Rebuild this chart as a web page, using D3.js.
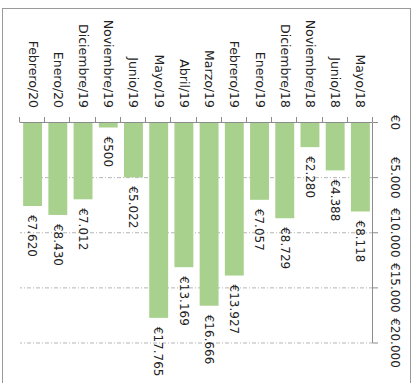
<!DOCTYPE html>
<html>
<head>
<meta charset="utf-8">
<script src="https://cdn.jsdelivr.net/npm/d3@7"></script>
<style>
  body { margin: 0; background: #fff; }
  text { font-family: "DejaVu Sans", sans-serif; }
</style>
</head>
<body>
<div id="chart-area"></div>
<script>
// monthly amounts, first category is drawn at the right
var categories = ["Mayo/18", "Junio/18", "Noviembre/18", "Diciembre/18", "Enero/19", "Febrero/19",
    "Marzo/19", "Abril/19", "Mayo/19", "Junio/19", "Noviembre/19", "Diciembre/19", "Enero/20", "Febrero/20"];
var values = [8118, 4388, 2280, 8729, 7057, 13927, 16666, 13169, 17765, 5022, 500, 7012, 8430, 7620];
var valueTicks = [0, 5000, 10000, 15000, 20000];

var W = 411, H = 383;

var fmt = (d) => "€" + d3.format(",")(d).replace(/,/g, ".");

var svg = d3.select("#chart-area").append("svg")
    .attr("width", W)
    .attr("height", H);

svg.append("rect")
    .attr("x", 2.5)
    .attr("y", 8.5)
    .attr("width", 408)
    .attr("height", 390)
    .attr("fill", "none")
    .attr("stroke", "#9a9a9a")
    .attr("stroke-width", 1);

// the chart is a horizontal bar chart turned a quarter turn clockwise
var g = svg.append("g")
    .attr("transform", "translate(" + W + ",0) rotate(90)");

var val = d3.scaleLinear().domain([0, 20000]).range([122, 342.5]);

var cat = d3.scaleBand()
    .domain(categories)
    .range([38, 391])
    .paddingInner(0.25)
    .paddingOuter(0.125);

// gridlines
g.selectAll(".grid").data(valueTicks.slice(1)).enter().append("line")
    .attr("x1", (d) => val(d) + 0.5)
    .attr("x2", (d) => val(d) + 0.5)
    .attr("y1", 38)
    .attr("y2", 391)
    .attr("stroke", "#b5b5b5")
    .attr("stroke-width", 1)
    .attr("stroke-dasharray", "4,2,1,2");

// bars
g.selectAll(".bar").data(values).enter().append("rect")
    .attr("x", val(0) + 1)
    .attr("y", (d, i) => cat(categories[i]))
    .attr("width", (d) => val(d) - val(0) - 1)
    .attr("height", cat.bandwidth())
    .attr("fill", "#a9d18e");

// value axis
var vAxis = g.append("g")
    .attr("transform", "translate(0,38)")
    .call(d3.axisTop(val).tickValues(valueTicks).tickFormat(fmt).tickSize(5).tickSizeOuter(0).tickPadding(13));
vAxis.select(".domain").attr("stroke", "#8c8c8c");
vAxis.selectAll(".tick line").attr("stroke", "#8c8c8c");
vAxis.selectAll("text")
    .attr("font-size", 12)
    .attr("font-family", "DejaVu Sans, sans-serif")
    .attr("fill", "#222");

// category axis
var cAxis = g.append("g")
    .attr("transform", "translate(122,0)")
    .call(d3.axisLeft(cat).tickSize(0).tickSizeOuter(0).tickPadding(14));
cAxis.select(".domain").attr("stroke", "#8c8c8c");
cAxis.selectAll("text")
    .attr("font-size", 12.5)
    .attr("font-family", "DejaVu Sans, sans-serif")
    .attr("fill", "#222");

var half = cat.step() * cat.paddingInner() / 2;
var bounds = categories.map((d) => cat(d) - half).concat([cat(categories[categories.length - 1]) + cat.bandwidth() + half]);
g.selectAll(".ctick").data(bounds).enter().append("line")
    .attr("x1", 117)
    .attr("x2", 122)
    .attr("y1", (d) => Math.round(d) + 0.5)
    .attr("y2", (d) => Math.round(d) + 0.5)
    .attr("stroke", "#8c8c8c");

// value labels
g.selectAll(".lbl").data(values).enter().append("text")
    .attr("x", (d) => val(d) + 9)
    .attr("y", (d, i) => cat(categories[i]) + cat.bandwidth() / 2)
    .attr("dy", "0.35em")
    .attr("font-size", 12)
    .attr("fill", "#222")
    .text((d) => fmt(d));
</script>
</body>
</html>
